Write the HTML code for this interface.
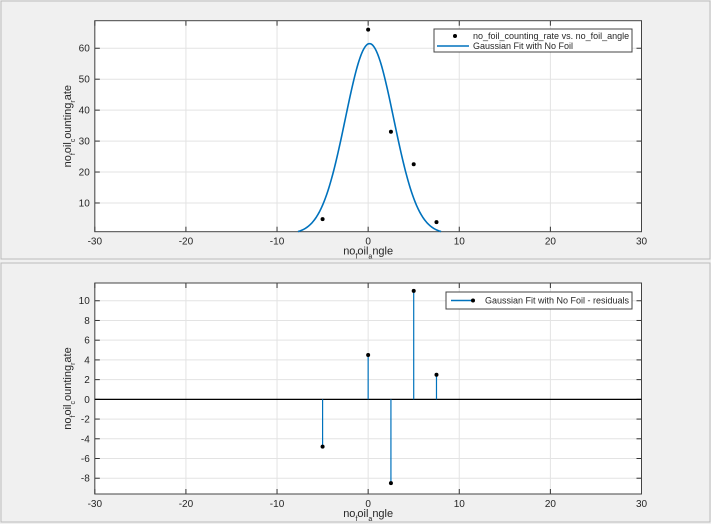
<!DOCTYPE html>
<html><head><meta charset="utf-8"><style>
body{margin:0;background:#f0f0f0;font-family:"Liberation Sans",sans-serif}
svg{display:block}
text{font-family:"Liberation Sans",sans-serif;fill:#262626}
</style></head><body>
<svg id="c" width="711" height="524"></svg>
<script>
const xData=[-5,0,2.5,5,7.5];
const yData=[4.8,66,33,22.5,3.8];
const resid=[-4.8,4.5,-8.5,11,2.5];
const fitA=61.5, fitMu=0.15, fitSigma=2.65;
const xTicks=[-30,-20,-10,0,10,20,30];
const yTicksTop=[10,20,30,40,50,60];
const yTicksBot=[-8,-6,-4,-2,0,2,4,6,8,10];
const NS="http://www.w3.org/2000/svg";
const svg=document.getElementById('c');
function el(t,a,p){const e=document.createElementNS(NS,t);for(const k in a)e.setAttribute(k,a[k]);(p||svg).appendChild(e);return e;}
let p1=el('rect',{x:1,y:1,width:709,height:258,fill:'#f0f0f0',stroke:'#bbb'});

let p2=el('rect',{x:1,y:263,width:709,height:259,fill:'#f0f0f0',stroke:'#bbb'});

function axes(name,L,R,T,B,ymin,ymax,yt){
  const g=el('g',{});
  
  
  const sx=v=>L+(v+30)/60*(R-L), sy=v=>B-(v-ymin)/(ymax-ymin)*(B-T);
  el('rect',{x:L,y:T,width:R-L,height:B-T,fill:'#fff'},g);
  xTicks.forEach(v=>{
    el('line',{x1:sx(v),x2:sx(v),y1:T,y2:B,stroke:'#e3e3e3'},g);
    el('line',{x1:sx(v),x2:sx(v),y1:B,y2:B-5,stroke:'#333'},g);
    el('line',{x1:sx(v),x2:sx(v),y1:T,y2:T+5,stroke:'#333'},g);
    const t=el('text',{x:sx(v),y:B+13,'font-size':10,'text-anchor':'middle'},g);t.textContent=v;
    
  });
  yt.forEach(v=>{
    el('line',{x1:L,x2:R,y1:sy(v),y2:sy(v),stroke:'#e3e3e3'},g);
    el('line',{x1:L,x2:L+5,y1:sy(v),y2:sy(v),stroke:'#333'},g);
    el('line',{x1:R,x2:R-5,y1:sy(v),y2:sy(v),stroke:'#333'},g);
    const t=el('text',{x:L-5,y:sy(v)+3.5,'font-size':10,'text-anchor':'end'},g);t.textContent=v;
    
  });
  el('rect',{x:L,y:T,width:R-L,height:B-T,fill:'none',stroke:'#444'},g);
  const xl=el('text',{x:(L+R)/2,y:B+23,'font-size':11,'text-anchor':'middle'},g);
  xl.innerHTML='no<tspan dy="4" font-size="7">f</tspan><tspan dy="-4">oil</tspan><tspan dy="4" font-size="7">a</tspan><tspan dy="-4">ngle</tspan>';
  
  const yl=el('text',{transform:`translate(${L-24},${(T+B)/2}) rotate(-90)`,'font-size':11,'text-anchor':'middle'},g);
  yl.innerHTML='no<tspan dy="4" font-size="7">f</tspan><tspan dy="-4">oil</tspan><tspan dy="4" font-size="7">c</tspan><tspan dy="-4">ounting</tspan><tspan dy="4" font-size="7">r</tspan><tspan dy="-4">ate</tspan>';
  
  return {g,sx,sy};
}
const A=axes('top-axes',94.8,641.5,20.7,231.7,0.72,68.9,yTicksTop);
let d='';
for(let x=-30;x<=30;x+=0.1){const y=fitA*Math.exp(-((x-fitMu)**2)/(2*fitSigma**2));if(y<0.72)continue;d+=(d?'L':'M')+A.sx(x).toFixed(2)+','+A.sy(y).toFixed(2);}
const fit=el('path',{d,fill:'none',stroke:'#0072bd','stroke-width':1.6});

xData.forEach((x,i)=>{const c=el('circle',{cx:A.sx(x),cy:A.sy(yData[i]),r:2,fill:'#000'});
});
const lg=el('g',{});
el('rect',{x:434,y:29,width:198,height:23,fill:'#fff',stroke:'#444'},lg);
el('circle',{cx:455,cy:36,r:2,fill:'#000'},lg);
el('line',{x1:437,x2:469,y1:46,y2:46,stroke:'#0072bd','stroke-width':1.6},lg);
let t=el('text',{x:473,y:39,'font-size':9},lg);t.textContent='no_foil_counting_rate vs. no_foil_angle';
t=el('text',{x:473,y:49,'font-size':9},lg);t.textContent='Gaussian Fit with No Foil';
const B=axes('bottom-axes',94.8,641.5,283,494,-9.6,11.8,yTicksBot);
el('line',{x1:94.8,x2:641.5,y1:B.sy(0),y2:B.sy(0),stroke:'#000','stroke-width':1.2});
xData.forEach((x,i)=>{
  const s=el('line',{x1:B.sx(x),x2:B.sx(x),y1:B.sy(0),y2:B.sy(resid[i]),stroke:'#0072bd','stroke-width':1.2});
  
  const c=el('circle',{cx:B.sx(x),cy:B.sy(resid[i]),r:2,fill:'#000'});
  
});
const lg2=el('g',{});
el('rect',{x:446,y:292,width:186,height:17,fill:'#fff',stroke:'#444'},lg2);
el('line',{x1:451,x2:473,y1:300.5,y2:300.5,stroke:'#0072bd','stroke-width':1.6},lg2);
el('circle',{cx:473,cy:300.5,r:2,fill:'#000'},lg2);
t=el('text',{x:485,y:303.5,'font-size':9},lg2);t.textContent='Gaussian Fit with No Foil - residuals';
</script>
</body></html>
